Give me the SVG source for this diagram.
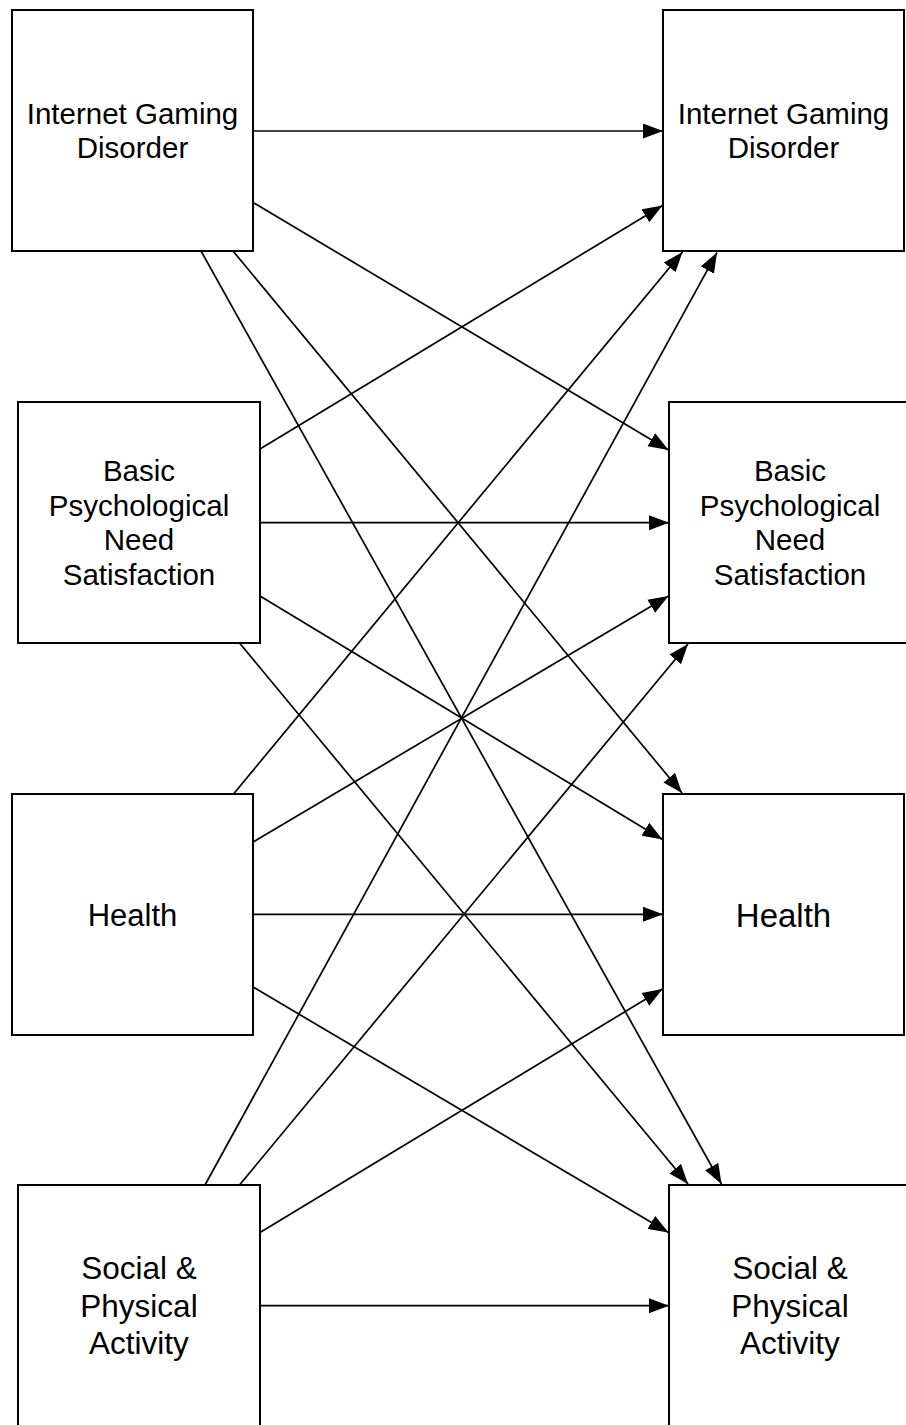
<svg xmlns="http://www.w3.org/2000/svg" width="906" height="1425" viewBox="0 0 906 1425">
<style>
.box{fill:#fff;stroke:#000;stroke-width:2}
.lbl{font-family:"Liberation Sans",Arial,Helvetica,sans-serif;font-size:29.5px;fill:#000;text-anchor:middle}
.big{font-size:31.5px}
.conn line{stroke:#000;stroke-width:1.7;marker-end:url(#ah)}
</style>
<defs>
<marker id="ah" markerUnits="userSpaceOnUse" markerWidth="20" markerHeight="16" viewBox="0 0 20 16" refX="20" refY="8" orient="auto">
<path d="M0,0.5 L20,8 L0,15.5 z" fill="#000"/>
</marker>
</defs>
<rect width="906" height="1425" fill="#fff"/>
<g class="conn" id="connectors">
<line x1="253" y1="131" x2="663" y2="131"/>
<line x1="254" y1="203" x2="668.5" y2="450"/>
<line x1="233" y1="251" x2="682" y2="793"/>
<line x1="201" y1="251" x2="721.5" y2="1184"/>
<line x1="260" y1="449" x2="662.5" y2="205.5"/>
<line x1="260" y1="522.7" x2="669" y2="522.7"/>
<line x1="260" y1="596" x2="662.5" y2="839.5"/>
<line x1="239.5" y1="643" x2="688" y2="1184"/>
<line x1="233.5" y1="794" x2="682.5" y2="252"/>
<line x1="253" y1="842" x2="668.5" y2="596"/>
<line x1="253" y1="914.3" x2="663" y2="914.3"/>
<line x1="253" y1="987" x2="668.5" y2="1232.5"/>
<line x1="205" y1="1185" x2="717" y2="252.5"/>
<line x1="239.5" y1="1185" x2="688" y2="644"/>
<line x1="260" y1="1232.5" x2="662.5" y2="989"/>
<line x1="260" y1="1305.7" x2="669" y2="1305.7"/>
</g>
<g id="igd-left"><rect class="box" x="12" y="10" width="241" height="241"/>
<text class="lbl" x="132.5" y="124.3">Internet Gaming</text><text class="lbl" x="132.5" y="157.7">Disorder</text></g>
<g id="igd-right"><rect class="box" x="663" y="10" width="241" height="241"/>
<text class="lbl" x="783.5" y="124.3">Internet Gaming</text><text class="lbl" x="783.5" y="157.7">Disorder</text></g>
<g id="bpns-left"><rect class="box" x="18" y="402" width="242" height="241"/>
<text class="lbl" x="139" y="480.7">Basic</text><text class="lbl" x="139" y="515.5">Psychological</text><text class="lbl" x="139" y="550">Need</text><text class="lbl" x="139" y="584.5">Satisfaction</text></g>
<g id="bpns-right"><rect class="box" x="669" y="402" width="242" height="241"/>
<text class="lbl" x="790" y="480.7">Basic</text><text class="lbl" x="790" y="515.5">Psychological</text><text class="lbl" x="790" y="550">Need</text><text class="lbl" x="790" y="584.5">Satisfaction</text></g>
<g id="health-left"><rect class="box" x="12" y="794" width="241" height="241"/>
<text class="lbl" style="font-size:31px" x="132.5" y="926">Health</text></g>
<g id="health-right"><rect class="box" x="663" y="794" width="241" height="241"/>
<text class="lbl" style="font-size:33px" x="783.5" y="926.5">Health</text></g>
<g id="spa-left"><rect class="box" x="18" y="1185" width="242" height="241"/>
<text class="lbl big" x="139" y="1279.3">Social &amp;</text><text class="lbl big" x="139" y="1316.7">Physical</text><text class="lbl big" x="139" y="1354">Activity</text></g>
<g id="spa-right"><rect class="box" x="669" y="1185" width="242" height="241"/>
<text class="lbl big" x="790" y="1279.3">Social &amp;</text><text class="lbl big" x="790" y="1316.7">Physical</text><text class="lbl big" x="790" y="1354">Activity</text></g>
</svg>
